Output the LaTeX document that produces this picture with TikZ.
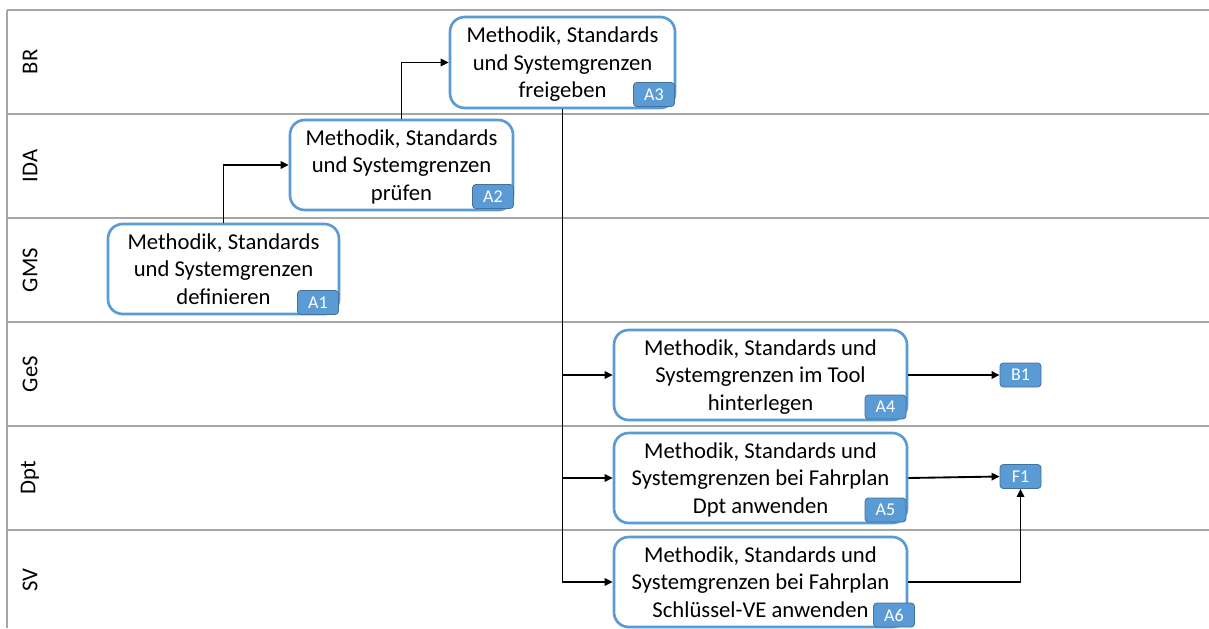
\documentclass[tikz,border=0pt]{standalone}
\usepackage{fontspec}
\setmainfont{Carlito}
\usetikzlibrary{arrows.meta}
\definecolor{boxblue}{HTML}{5B9BD5}
\definecolor{badgeedge}{HTML}{41719C}
\definecolor{lanegray}{HTML}{A6A6A6}
\begin{document}
\begin{tikzpicture}[x=0.75pt,y=-0.75pt,
  lane/.style={draw=lanegray,line width=1.6pt},
  lanelabel/.style={rotate=90,font=\fontsize{17}{20}\selectfont,inner sep=0pt},
  task/.style={draw=boxblue,fill=white,line width=2pt,rounded corners=11pt,align=center,font=\fontsize{17}{20.7}\selectfont,inner sep=0pt,text depth=0pt},
  badge/.style={draw=badgeedge,fill=boxblue,line width=0.6pt,rounded corners=2.5pt,text=white,font=\fontsize{13.5}{14}\selectfont,minimum width=30.75pt,minimum height=18pt,inner sep=0pt},
  flow/.style={draw=black,line width=1.4pt,-{Triangle[length=6pt,width=5.5pt]}}]
\useasboundingbox (0,0) rectangle (1209,628);
% swimlanes
\foreach \yy in {10,114,218,322,426,530}{
  \draw[lane] (7,\yy) -- (1209,\yy);
}
\draw[lane] (7,10) -- (7,628);
\node[lanelabel] (lBR)  at (30,62)  {BR};
\node[lanelabel] (lIDA) at (30,166) {IDA};
\node[lanelabel] (lGMS) at (30,270) {GMS};
\node[lanelabel] (lGeS) at (30,374) {GeS};
\node[lanelabel] (lDpt) at (30,478) {Dpt};
\node[lanelabel] (lSV)  at (30,580) {SV};
% tasks
\node[task,minimum width=173.25pt,minimum height=67.5pt] (A1) at (223.5,269) {Methodik, Standards\\und Systemgrenzen\\definieren};
\node[task,minimum width=167.25pt,minimum height=67.5pt] (A2) at (401.5,165) {Methodik, Standards\\und Systemgrenzen\\prüfen};
\node[task,minimum width=168.75pt,minimum height=68.25pt] (A3) at (562.5,62.5) {Methodik, Standards\\und Systemgrenzen\\freigeben};
\node[task,minimum width=219.75pt,minimum height=67.5pt] (A4) at (760.5,375) {Methodik, Standards und\\Systemgrenzen im Tool\\hinterlegen};
\node[task,minimum width=219.75pt,minimum height=67.5pt] (A5) at (760.5,478) {Methodik, Standards und\\Systemgrenzen bei Fahrplan\\Dpt anwenden};
\node[task,minimum width=219.75pt,minimum height=67.5pt] (A6) at (760.5,582) {Methodik, Standards und\\Systemgrenzen bei Fahrplan\\Schlüssel-VE anwenden};
% badges
\node[badge] (bA1) at (318,302.5) {A1};
\node[badge] (bA2) at (493,196.5) {A2};
\node[badge] (bA3) at (654,94.5) {A3};
\node[badge] (bA4) at (885.5,407) {A4};
\node[badge] (bA5) at (885.5,510) {A5};
\node[badge] (bA6) at (894,615) {A6};
\node[badge] (B1) at (1020.5,375) {B1};
\node[badge] (F1) at (1020.5,476.5) {F1};
% connectors
\draw[flow] (A1.north) |- (A2.west);
\draw[flow] (A2.north) |- (A3.west);
\draw[flow] (A3.south) |- (A4.west);
\draw[flow] (A3.south) |- (A5.west);
\draw[flow] (A3.south) |- (A6.west);
\draw[flow] (A4.east) -- (B1.west);
\draw[flow] (A5.east) -- (F1.west);
\draw[flow] (A6.east) -| (F1.south);
\end{tikzpicture}
\end{document}
